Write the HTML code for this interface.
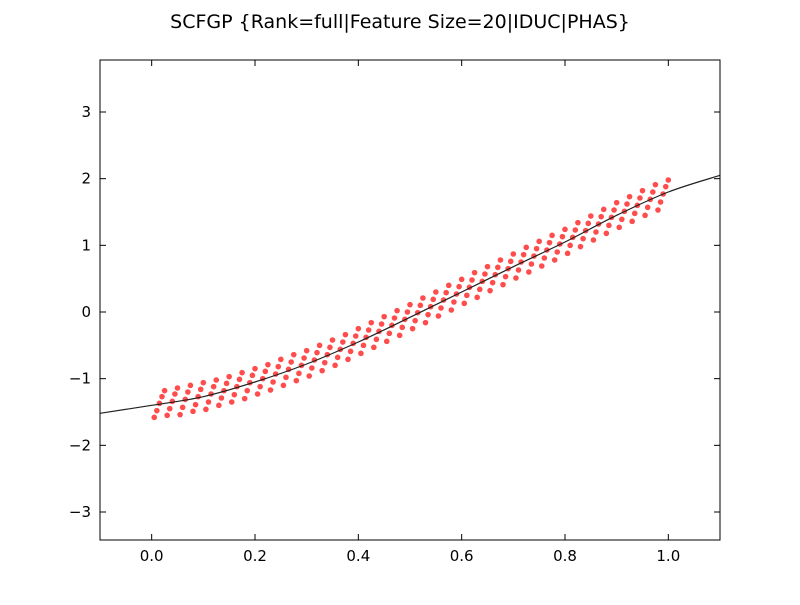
<!DOCTYPE html>
<html><head><meta charset="utf-8"><style>
body{margin:0;background:#fff}
svg text{font-family:"DejaVu Sans","Liberation Sans",sans-serif}
</style></head><body>
<svg id="chart" width="800" height="600" xmlns="http://www.w3.org/2000/svg">
<rect width="800" height="600" fill="#fff"/>
<text x="400" y="28" font-size="19" text-anchor="middle">SCFGP {Rank=full|Feature Size=20|IDUC|PHAS}</text>
<g id="marks"></g>
<rect x="100" y="60" width="620" height="480" fill="none" stroke="#000" stroke-width="1"/>
<g id="axes"></g>
</svg>
<script>
const dataY = [
-1.58,-1.48,-1.37,-1.27,-1.18,
-1.55,-1.45,-1.34,-1.23,-1.14,
-1.54,-1.43,-1.31,-1.20,-1.10,
-1.49,-1.39,-1.27,-1.16,-1.06,
-1.46,-1.35,-1.23,-1.12,-1.02,
-1.40,-1.29,-1.18,-1.07,-0.97,
-1.35,-1.24,-1.12,-1.01,-0.91,
-1.30,-1.18,-1.06,-0.95,-0.85,
-1.23,-1.12,-1.00,-0.89,-0.79,
-1.17,-1.05,-0.93,-0.82,-0.71,
-1.10,-0.98,-0.86,-0.75,-0.64,
-1.03,-0.92,-0.80,-0.69,-0.58,
-0.96,-0.84,-0.72,-0.61,-0.50,
-0.88,-0.76,-0.64,-0.53,-0.42,
-0.80,-0.68,-0.56,-0.45,-0.34,
-0.71,-0.59,-0.47,-0.36,-0.25,
-0.62,-0.50,-0.38,-0.27,-0.16,
-0.53,-0.41,-0.29,-0.18,-0.07,
-0.44,-0.32,-0.20,-0.09,0.02,
-0.35,-0.23,-0.11,0.00,0.11,
-0.25,-0.13,-0.01,0.10,0.21,
-0.16,-0.04,0.08,0.19,0.30,
-0.06,0.06,0.18,0.29,0.40,
0.03,0.15,0.27,0.38,0.49,
0.13,0.25,0.37,0.48,0.59,
0.22,0.34,0.46,0.57,0.68,
0.32,0.44,0.56,0.67,0.78,
0.41,0.53,0.65,0.76,0.87,
0.51,0.63,0.75,0.86,0.97,
0.60,0.72,0.84,0.95,1.06,
0.69,0.81,0.93,1.04,1.15,
0.78,0.90,1.02,1.13,1.24,
0.88,1.00,1.12,1.23,1.34,
0.98,1.10,1.22,1.33,1.44,
1.08,1.20,1.32,1.43,1.54,
1.18,1.30,1.42,1.53,1.64,
1.27,1.39,1.51,1.62,1.73,
1.36,1.48,1.60,1.71,1.82,
1.45,1.57,1.69,1.80,1.91,
1.53,1.65,1.77,1.88,1.98];
const dataXStart = 0.005, dataXStep = 0.005;
const curveX = [-0.1,0,0.1,0.2,0.3,0.4,0.5,0.6,0.7,0.8,0.9,1.0,1.1];
const curveY = [-1.52,-1.40,-1.27,-1.05,-0.78,-0.45,-0.08,0.30,0.68,1.05,1.45,1.80,2.05];
const xTicks = [0.0,0.2,0.4,0.6,0.8,1.0];
const xTickLabels = ["0.0","0.2","0.4","0.6","0.8","1.0"];
const yTicks = [-3,-2,-1,0,1,2,3];
const yTickLabels = ["\u22123","\u22122","\u22121","0","1","2","3"];
const X0=100,X1=720,Y0=60,Y1=540,xmin=-0.1,xmax=1.1,ymin=-3.42,ymax=3.78;
const sx=v=>X0+(v-xmin)/(xmax-xmin)*(X1-X0);
const sy=v=>Y1-(v-ymin)/(ymax-ymin)*(Y1-Y0);
const NS="http://www.w3.org/2000/svg";
const marks=document.getElementById('marks'), axes=document.getElementById('axes');
function mk(t,a,p){const e=document.createElementNS(NS,t);for(const k in a)e.setAttribute(k,a[k]);p.appendChild(e);return e;}
dataY.forEach((v,i)=>{
  const c=mk('circle',{cx:sx(dataXStart+i*dataXStep),cy:sy(v),r:2.8,fill:'#ff0000','fill-opacity':0.7},marks);
  
  
});
let P=curveX.map((x,i)=>[sx(x),sy(curveY[i])]);
let d=`M${P[0][0]},${P[0][1]}`;
for(let i=0;i<P.length-1;i++){
  const p0=P[Math.max(0,i-1)],p1=P[i],p2=P[i+1],p3=P[Math.min(P.length-1,i+2)];
  d+=` C${p1[0]+(p2[0]-p0[0])/6},${p1[1]+(p2[1]-p0[1])/6} ${p2[0]-(p3[0]-p1[0])/6},${p2[1]-(p3[1]-p1[1])/6} ${p2[0]},${p2[1]}`;
}
const cl=mk('path',{d:d,fill:'none',stroke:'#222',"stroke-width":1.2},marks);


xTicks.forEach((t,i)=>{
  const x=sx(t);
  mk('line',{x1:x,y1:Y1,x2:x,y2:Y1-6,stroke:'#000'},axes);
  mk('line',{x1:x,y1:Y0,x2:x,y2:Y0+6,stroke:'#000'},axes);
  const tx=mk('text',{x:x,y:Y1+21,'font-size':15,'text-anchor':'middle'},axes);
  tx.textContent=xTickLabels[i];
  
  
});
yTicks.forEach((t,i)=>{
  const y=sy(t);
  mk('line',{x1:X0,y1:y,x2:X0+6,y2:y,stroke:'#000'},axes);
  mk('line',{x1:X1,y1:y,x2:X1-6,y2:y,stroke:'#000'},axes);
  const tx=mk('text',{x:X0-9,y:y+5,'font-size':15,'text-anchor':'end'},axes);
  tx.textContent=yTickLabels[i];
  
  
});
</script>
</body></html>
